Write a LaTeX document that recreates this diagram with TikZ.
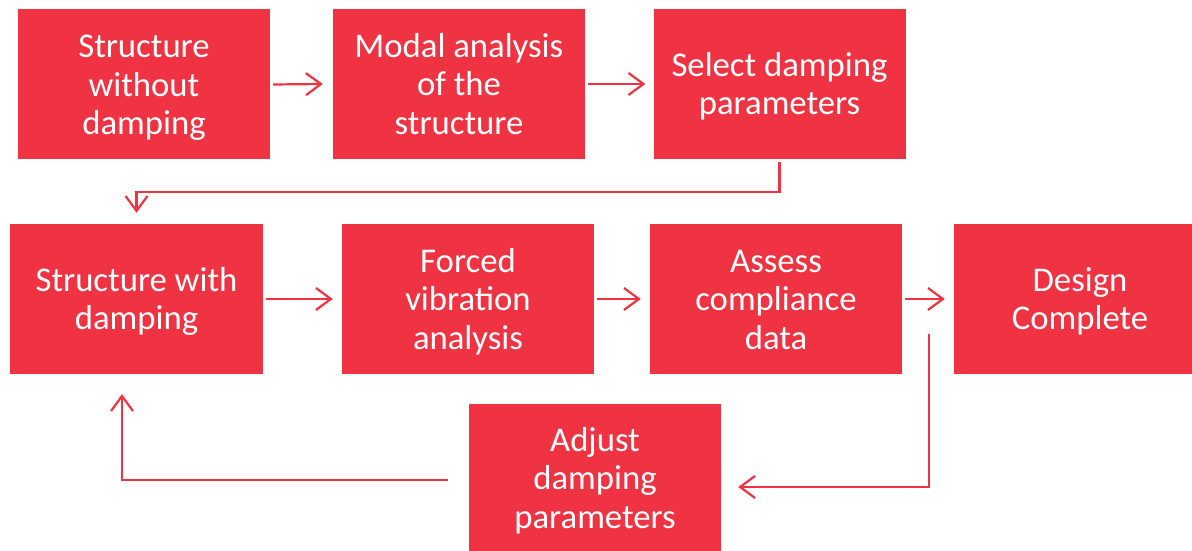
\documentclass[tikz,border=0pt]{standalone}
\usepackage{fontspec}
\setmainfont{Carlito}
\usetikzlibrary{arrows.meta}
\definecolor{boxred}{RGB}{239,51,66}
\newcommand{\boxlines}[1]{\raisebox{0pt}[\dimexpr\height+8pt\relax][\depth]{\begin{tabular}{@{}c@{}}#1\end{tabular}}}
\tikzset{
  stepbox/.style={rectangle, fill=boxred, draw=none, text=white, align=center,
    minimum width=252pt, minimum height=150pt, inner sep=0pt,
    font=\fontsize{34.7}{38.5}\selectfont},
  arr/.style={draw=boxred, line width=2.2pt,
    -{Straight Barb[length=15pt,width=22pt,line width=2.2pt]}}
}
\begin{document}
\begin{tikzpicture}[x=1pt,y=1pt]
\clip (0,0) rectangle (1192,551);
\useasboundingbox (0,0) rectangle (1192,551);
\fill[white] (0,0) rectangle (1192,551);
\node[stepbox] (b1) at (144,466.5) {\boxlines{Structure\\without\\damping}};
\node[stepbox] (b2) at (459,467) {\boxlines{Modal analysis\\of the\\structure}};
\node[stepbox] (b3) at (779.5,467) {\boxlines{Select damping\\parameters}};
\node[stepbox, minimum width=253pt] (b4) at (136.5,252) {\boxlines{Structure with\\damping}};
\node[stepbox] (b5) at (468,252) {\boxlines{Forced\\vibration\\analysis}};
\node[stepbox] (b6) at (776,252) {\boxlines{Assess\\compliance\\data}};
\node[stepbox] (b7) at (1080,252) {\boxlines{Design\\Complete}};
\node[stepbox, minimum height=148pt] (b8) at (595,73) {\boxlines{Adjust\\damping\\parameters}};
\coordinate (f1) at (929,217);
\draw[arr] ([xshift=3pt]b1.east) -- ([xshift=-10pt]b2.west);
\draw[arr] ([xshift=3pt]b2.east) -- ([xshift=-8pt]b3.west);
\draw[arr] ([yshift=-3pt]b3.south) -- ++(0,-30) -| ([yshift=11pt]b4.north);
\draw[arr] ([xshift=3pt]b4.east) -- ([xshift=-9pt]b5.west);
\draw[arr] ([xshift=3pt]b5.east) -- ([xshift=-9pt]b6.west);
\draw[arr] ([xshift=3pt]b6.east) -- ([xshift=-9pt]b7.west);
\draw[arr] (f1) |- ([xshift=17pt,yshift=-9pt]b8.east);
\draw[arr] ([xshift=-21pt,yshift=-2pt]b8.west) -| ([xshift=-14.5pt,yshift=-20pt]b4.south);
\end{tikzpicture}
\end{document}
